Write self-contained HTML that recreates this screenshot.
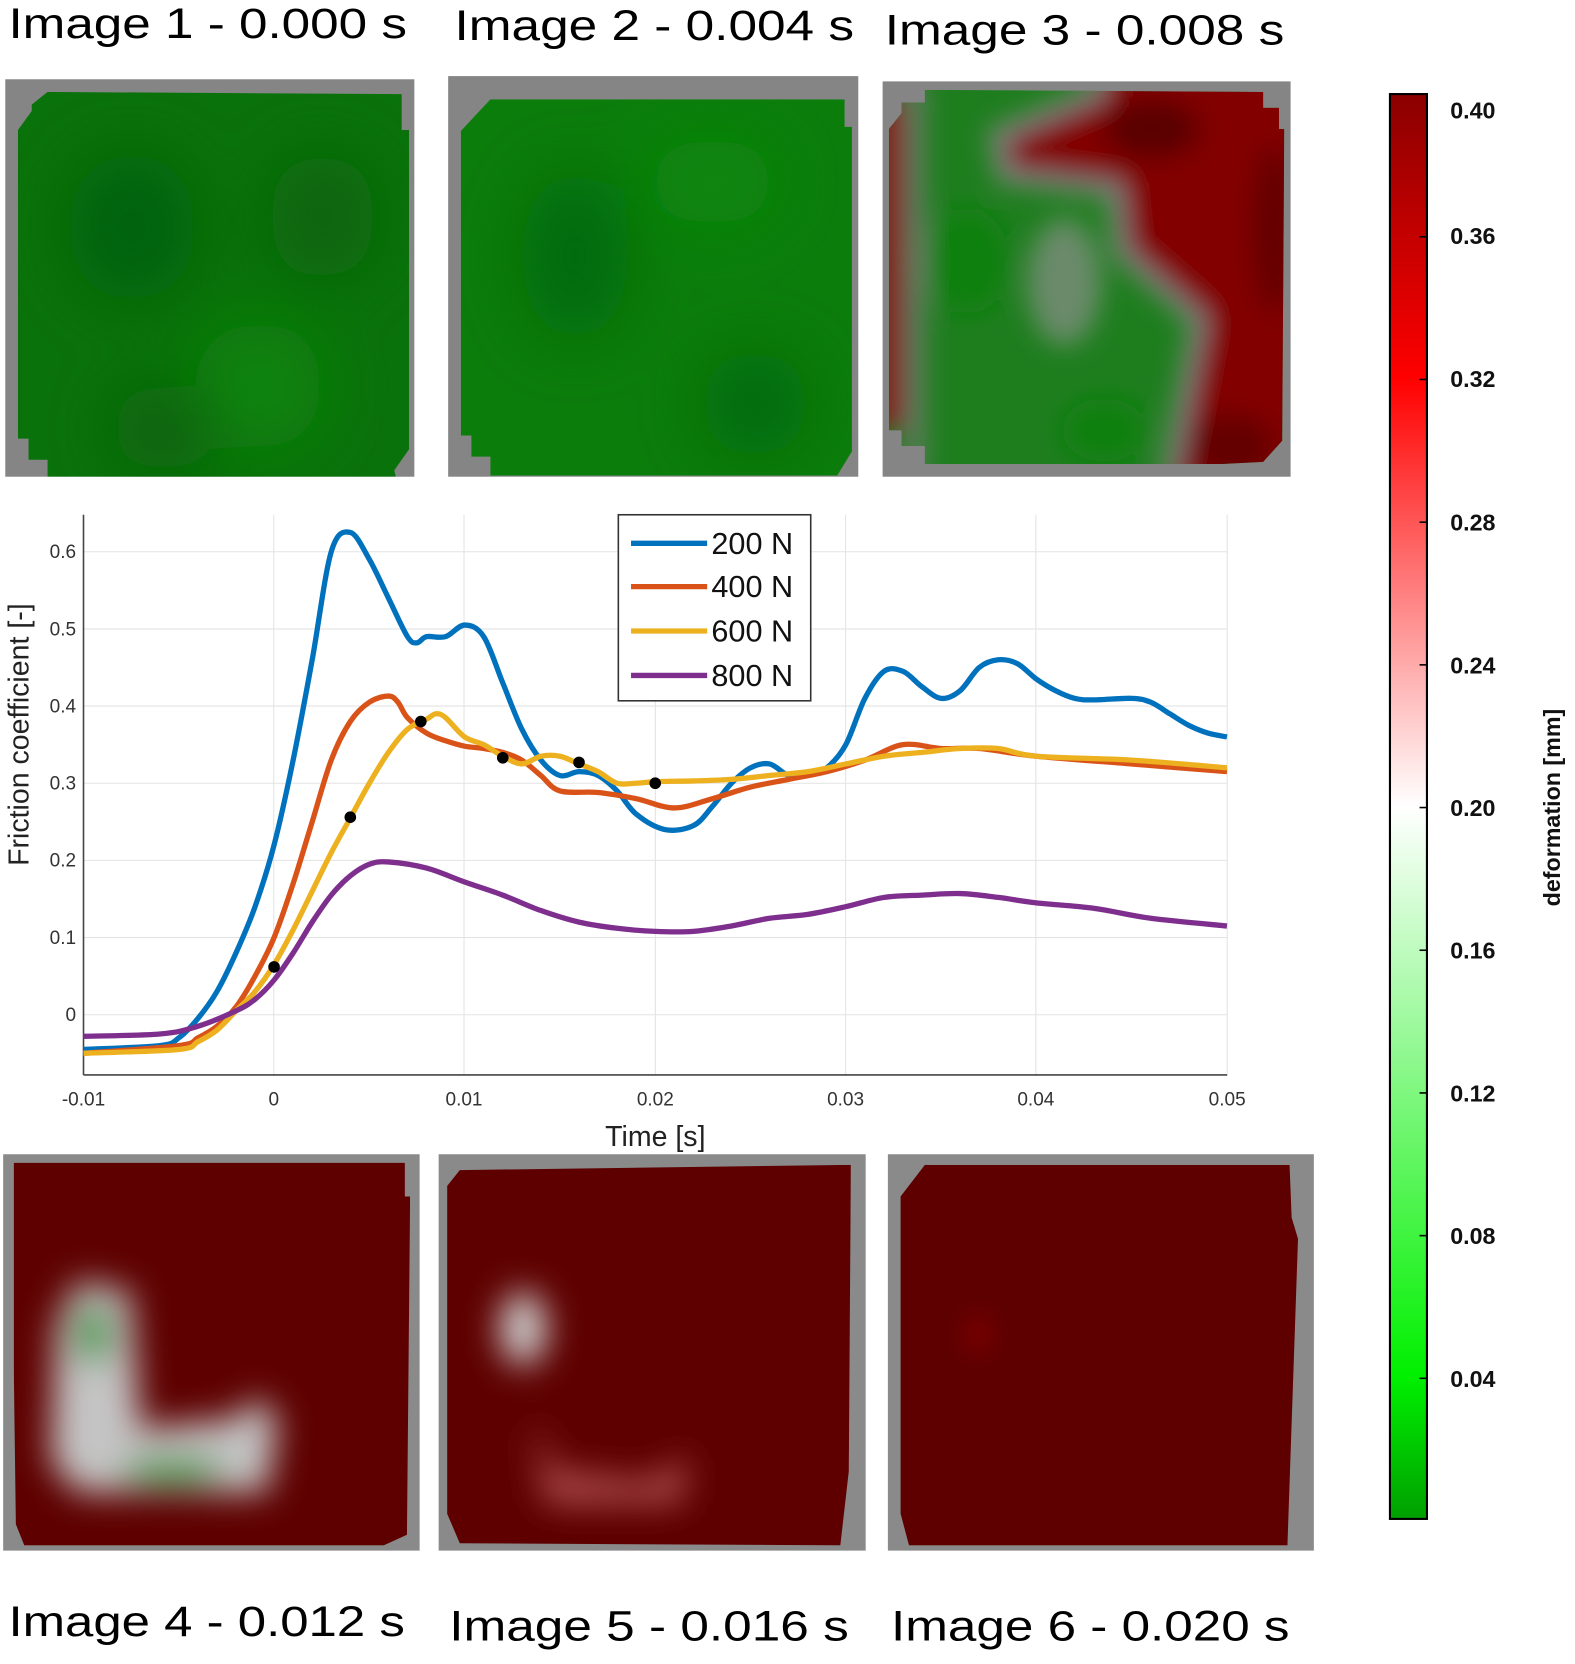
<!DOCTYPE html>
<html><head><meta charset="utf-8"><style>
html,body{margin:0;padding:0;background:#fff;overflow:hidden;width:1575px;height:1658px}
#w{position:absolute;left:0;top:0;width:1490px;height:1569px;transform:scale(1.0570);transform-origin:0 0}
</style></head><body><div id="w">
<svg width="1490" height="1569" xmlns="http://www.w3.org/2000/svg" font-family="Liberation Sans, sans-serif">
<defs>
<filter id="b1" filterUnits="userSpaceOnUse" x="-200" y="-200" width="800" height="800"><feGaussianBlur stdDeviation="30"/></filter>
<filter id="b2" filterUnits="userSpaceOnUse" x="-200" y="-200" width="800" height="800"><feGaussianBlur stdDeviation="16"/></filter>
<filter id="b3" filterUnits="userSpaceOnUse" x="-200" y="-200" width="800" height="800"><feGaussianBlur stdDeviation="12"/></filter>
<linearGradient id="cb" x1="0" y1="0" x2="0" y2="1">
<stop offset="0" stop-color="#8a0000"/><stop offset="0.2" stop-color="#ff0000"/>
<stop offset="0.5" stop-color="#ffffff"/><stop offset="0.9" stop-color="#00f000"/><stop offset="1" stop-color="#00a000"/>
</linearGradient>
</defs>
<!-- titles -->
<g font-size="40" fill="#000" font-family="Liberation Sans Narrow, Liberation Sans, sans-serif">
<text x="8" y="36" textLength="377" lengthAdjust="spacingAndGlyphs">Image 1 - 0.000 s</text>
<text x="430" y="38" textLength="378" lengthAdjust="spacingAndGlyphs">Image 2 - 0.004 s</text>
<text x="837" y="42" textLength="378" lengthAdjust="spacingAndGlyphs">Image 3 - 0.008 s</text>
<text x="8" y="1548" textLength="375" lengthAdjust="spacingAndGlyphs">Image 4 - 0.012 s</text>
<text x="425" y="1552" textLength="378" lengthAdjust="spacingAndGlyphs">Image 5 - 0.016 s</text>
<text x="843" y="1552" textLength="377" lengthAdjust="spacingAndGlyphs">Image 6 - 0.020 s</text>
</g>
<!-- tile 1 -->
<rect x="5" y="75" width="387" height="376" fill="#858585"/>
<svg x="5" y="75" width="387" height="376"><defs><clipPath id="k1"><polygon points="40,12 375,14 375,48 382,48 382,350 368,370 370,378 40,378 40,360 22,360 22,340 12,340 12,48 25,30 25,24"/></clipPath></defs>
<g clip-path="url(#k1)"><rect width="387" height="376" fill="#0a720a"/>
<g filter="url(#b1)"><ellipse cx="120" cy="140" rx="60" ry="70" fill="#066208"/><ellipse cx="240" cy="290" rx="60" ry="60" fill="#0b840b"/><ellipse cx="300" cy="130" rx="50" ry="60" fill="#07650a"/><ellipse cx="150" cy="330" rx="50" ry="40" fill="#076208"/></g></g></svg>
<!-- tile 2 -->
<rect x="424" y="72" width="388" height="379" fill="#858585"/>
<svg x="424" y="72" width="388" height="379"><defs><clipPath id="k2"><polygon points="40,22 375,22 375,48 382,48 382,355 368,378 40,378 40,360 22,360 22,340 12,340 12,52 25,38"/></clipPath></defs>
<g clip-path="url(#k2)"><rect width="388" height="379" fill="#0b7d0b"/>
<g filter="url(#b1)"><ellipse cx="120" cy="170" rx="50" ry="80" fill="#066a08"/><ellipse cx="290" cy="310" rx="50" ry="50" fill="#066a08"/><ellipse cx="250" cy="100" rx="60" ry="40" fill="#0d880d"/></g></g></svg>
<!-- tile 3 -->
<rect x="835" y="77" width="386" height="374" fill="#858585"/>
<svg x="835" y="77" width="386" height="374"><defs><clipPath id="k3"><polygon points="40,8 360,10 360,25 375,25 375,45 380,45 378,340 360,360 320,362 40,362 40,345 18,345 18,330 6,330 6,45 18,30 18,20 40,20"/></clipPath></defs>
<g clip-path="url(#k3)"><rect width="386" height="374" fill="#1e7e1e"/>
<g filter="url(#b3)">
<rect x="-10" y="15" width="30" height="315" fill="#8a0a0a"/>
<rect x="24" y="0" width="14" height="374" fill="#7a7a7a"/>
<polygon points="204,-20 420,-20 420,400 270,400 299,226 226,162 220,102 115,89 108,51 204,10" fill="#820000"/>
<polyline points="204,-10 204,10 108,51 115,89 220,102 226,162 299,226 270,380" fill="none" stroke="#858585" stroke-width="14"/>
<ellipse cx="255" cy="45" rx="45" ry="28" fill="#5a0000"/><ellipse cx="370" cy="140" rx="20" ry="80" fill="#640000"/><ellipse cx="330" cy="345" rx="40" ry="30" fill="#640000"/>
<ellipse cx="172" cy="190" rx="35" ry="60" fill="#6a8a6a"/>
<ellipse cx="80" cy="170" rx="40" ry="50" fill="#0a800a"/><ellipse cx="210" cy="330" rx="40" ry="30" fill="#0a800a"/>
</g></g></svg>
<!-- tile 4 -->
<rect x="3" y="1092" width="394" height="375" fill="#8a8a8a"/>
<svg x="3" y="1092" width="394" height="375"><defs><clipPath id="k4"><polygon points="10,8 380,8 380,40 385,40 382,360 360,370 20,370 12,350 10,200"/></clipPath></defs>
<g clip-path="url(#k4)"><rect width="394" height="375" fill="#5e0000"/>
<g filter="url(#b2)"><path d="M70,120 L120,130 L130,260 L220,250 L240,230 L260,250 L250,320 L70,320 L45,290 L50,160 Z" fill="#c4c4c4"/>
<ellipse cx="85" cy="170" rx="20" ry="30" fill="#4c9a4c"/><ellipse cx="160" cy="300" rx="50" ry="15" fill="#4c9a4c"/></g></g></svg>
<!-- tile 5 -->
<rect x="415" y="1092" width="404" height="375" fill="#8a8a8a"/>
<svg x="415" y="1092" width="404" height="375"><defs><clipPath id="k5"><polygon points="20,15 390,10 388,300 380,370 20,368 8,340 8,30"/></clipPath></defs>
<g clip-path="url(#k5)"><rect width="404" height="375" fill="#5e0000"/>
<g filter="url(#b2)"><ellipse cx="80" cy="165" rx="22" ry="35" fill="#d0d0d0"/><path d="M90,250 L110,300 L200,310 L235,285 L230,330 L100,330 Z" fill="#b05050"/></g></g></svg>
<!-- tile 6 -->
<rect x="840" y="1092" width="403" height="375" fill="#8a8a8a"/>
<svg x="840" y="1092" width="403" height="375"><defs><clipPath id="k6"><polygon points="35,10 380,10 382,60 388,80 378,370 20,370 12,340 12,40"/></clipPath></defs>
<g clip-path="url(#k6)"><rect width="403" height="375" fill="#5e0000"/>
<g filter="url(#b3)"><ellipse cx="85" cy="170" rx="10" ry="18" fill="#850000"/></g></g></svg>
<!-- plot -->
<g stroke="#e3e3e3" stroke-width="1">
<line x1="79" y1="960" x2="1161" y2="960"/><line x1="79" y1="887" x2="1161" y2="887"/><line x1="79" y1="814" x2="1161" y2="814"/><line x1="79" y1="741" x2="1161" y2="741"/><line x1="79" y1="668" x2="1161" y2="668"/><line x1="79" y1="595" x2="1161" y2="595"/><line x1="79" y1="522" x2="1161" y2="522"/>
<line x1="259" y1="487" x2="259" y2="1017"/><line x1="439" y1="487" x2="439" y2="1017"/><line x1="620" y1="487" x2="620" y2="1017"/><line x1="800" y1="487" x2="800" y2="1017"/><line x1="980" y1="487" x2="980" y2="1017"/><line x1="1161" y1="487" x2="1161" y2="1017"/>
</g>
<g stroke="#444" stroke-width="1.5" fill="none"><line x1="79" y1="487" x2="79" y2="1017"/><line x1="79" y1="1017" x2="1161" y2="1017"/></g>
<g font-size="18" fill="#333" text-anchor="end">
<text x="72" y="966">0</text><text x="72" y="893">0.1</text><text x="72" y="820">0.2</text><text x="72" y="747">0.3</text><text x="72" y="674">0.4</text><text x="72" y="601">0.5</text><text x="72" y="528">0.6</text></g>
<g font-size="18" fill="#333" text-anchor="middle">
<text x="79" y="1046">-0.01</text><text x="259" y="1046">0</text><text x="439" y="1046">0.01</text><text x="620" y="1046">0.02</text><text x="800" y="1046">0.03</text><text x="980" y="1046">0.04</text><text x="1161" y="1046">0.05</text></g>
<text x="620" y="1084" font-size="27" fill="#222" text-anchor="middle">Time [s]</text>
<text transform="translate(27,695) rotate(-90)" font-size="27" fill="#222" text-anchor="middle">Friction coefficient [-]</text>
<g id="curves" fill="none" stroke-width="5" stroke-linejoin="round"></g>
<g id="dots" fill="#000"></g>
<!-- legend -->
<rect x="585" y="487" width="182" height="176" fill="#fff" stroke="#333" stroke-width="1.5"/>
<g stroke-width="5"><line x1="597" x2="669" y1="514" y2="514" stroke="#0072bd"/><line x1="597" x2="669" y1="555" y2="555" stroke="#d95319"/><line x1="597" x2="669" y1="597" y2="597" stroke="#edb120"/><line x1="597" x2="669" y1="639" y2="639" stroke="#7e2f8e"/></g>
<g font-size="29" fill="#111"><text x="673" y="524">200 N</text><text x="673" y="565">400 N</text><text x="673" y="607">600 N</text><text x="673" y="649">800 N</text></g>
<!-- colorbar -->
<rect x="1315" y="89" width="35" height="1348" fill="url(#cb)" stroke="#000" stroke-width="2"/>
<g stroke="#000" stroke-width="1.5"><line x1="1343" x2="1350" y1="89" y2="89"/><line x1="1343" x2="1350" y1="224" y2="224"/><line x1="1343" x2="1350" y1="359" y2="359"/><line x1="1343" x2="1350" y1="494" y2="494"/><line x1="1343" x2="1350" y1="629" y2="629"/><line x1="1343" x2="1350" y1="764" y2="764"/><line x1="1343" x2="1350" y1="899" y2="899"/><line x1="1343" x2="1350" y1="1034" y2="1034"/><line x1="1343" x2="1350" y1="1169" y2="1169"/><line x1="1343" x2="1350" y1="1304" y2="1304"/></g>
<g font-size="22" font-weight="bold" fill="#111">
<text x="1372" y="112">0.40</text><text x="1372" y="231">0.36</text><text x="1372" y="366">0.32</text><text x="1372" y="502">0.28</text><text x="1372" y="637">0.24</text><text x="1372" y="772">0.20</text><text x="1372" y="907">0.16</text><text x="1372" y="1042">0.12</text><text x="1372" y="1177">0.08</text><text x="1372" y="1312">0.04</text></g>
<text transform="translate(1476,764) rotate(-90)" font-size="22" font-weight="bold" fill="#111" text-anchor="middle">deformation [mm]</text>
</svg></div>
<script>
var X=function(t){return 79+(t+0.01)*18030},Y=function(v){return 960-v*730};
var S={
"#0072bd":[[-0.01,-0.045],[-0.006,-0.04],[-0.005,-0.03],[-0.004,-0.005],[-0.003,0.03],[-0.002,0.08],[-0.001,0.14],[0,0.22],[0.001,0.33],[0.002,0.46],[0.003,0.6],[0.004,0.625],[0.005,0.59],[0.006,0.54],[0.007,0.49],[0.0075,0.482],[0.008,0.49],[0.009,0.49],[0.01,0.505],[0.011,0.49],[0.012,0.43],[0.013,0.37],[0.014,0.33],[0.015,0.31],[0.016,0.315],[0.017,0.31],[0.018,0.29],[0.019,0.26],[0.0205,0.24],[0.022,0.245],[0.023,0.27],[0.024,0.3],[0.025,0.32],[0.026,0.325],[0.027,0.31],[0.028,0.31],[0.029,0.32],[0.03,0.35],[0.031,0.41],[0.032,0.445],[0.033,0.445],[0.034,0.425],[0.035,0.41],[0.036,0.42],[0.037,0.45],[0.038,0.46],[0.039,0.455],[0.04,0.435],[0.041,0.42],[0.042,0.41],[0.043,0.408],[0.045,0.41],[0.046,0.405],[0.047,0.39],[0.048,0.375],[0.049,0.365],[0.05,0.36]],
"#d95319":[[-0.01,-0.05],[-0.005,-0.04],[-0.004,-0.03],[-0.003,-0.015],[-0.002,0.01],[-0.001,0.05],[0,0.1],[0.001,0.17],[0.002,0.25],[0.003,0.33],[0.004,0.38],[0.005,0.405],[0.006,0.413],[0.0065,0.405],[0.007,0.385],[0.008,0.365],[0.009,0.355],[0.01,0.348],[0.011,0.345],[0.012,0.34],[0.013,0.33],[0.014,0.31],[0.015,0.29],[0.017,0.288],[0.019,0.28],[0.021,0.268],[0.023,0.28],[0.025,0.295],[0.027,0.305],[0.029,0.315],[0.031,0.33],[0.033,0.35],[0.035,0.345],[0.037,0.345],[0.04,0.335],[0.045,0.325],[0.05,0.315]],
"#edb120":[[-0.01,-0.05],[-0.005,-0.045],[-0.004,-0.035],[-0.003,-0.02],[-0.002,0.005],[-0.001,0.03],[0,0.065],[0.001,0.11],[0.002,0.16],[0.003,0.21],[0.004,0.255],[0.005,0.3],[0.006,0.34],[0.007,0.37],[0.008,0.383],[0.0085,0.39],[0.009,0.385],[0.01,0.36],[0.011,0.35],[0.012,0.335],[0.013,0.325],[0.014,0.335],[0.015,0.335],[0.016,0.325],[0.017,0.315],[0.018,0.3],[0.019,0.3],[0.02,0.302],[0.022,0.303],[0.024,0.305],[0.026,0.31],[0.028,0.315],[0.03,0.325],[0.032,0.335],[0.034,0.34],[0.036,0.345],[0.038,0.345],[0.04,0.335],[0.045,0.33],[0.05,0.32]],
"#7e2f8e":[[-0.01,-0.028],[-0.006,-0.025],[-0.004,-0.015],[-0.002,0.005],[-0.001,0.02],[0,0.045],[0.001,0.08],[0.002,0.12],[0.003,0.155],[0.004,0.18],[0.005,0.195],[0.006,0.198],[0.008,0.19],[0.01,0.172],[0.012,0.155],[0.014,0.135],[0.016,0.12],[0.018,0.112],[0.02,0.108],[0.022,0.108],[0.024,0.115],[0.026,0.125],[0.028,0.13],[0.03,0.14],[0.032,0.152],[0.034,0.155],[0.036,0.157],[0.038,0.152],[0.04,0.145],[0.043,0.138],[0.046,0.125],[0.05,0.115]]};
var ns="http://www.w3.org/2000/svg",g=document.getElementById("curves");
for(var c in S){var p=S[c].map(function(q){return [X(q[0]),Y(q[1])]});var d="M"+p[0][0]+","+p[0][1];
for(var i=0;i<p.length-1;i++){var p0=p[i-1]||p[i],p1=p[i],p2=p[i+1],p3=p[i+2]||p2;
d+=" C"+(p1[0]+(p2[0]-p0[0])/6)+","+(p1[1]+(p2[1]-p0[1])/6)+" "+(p2[0]-(p3[0]-p1[0])/6)+","+(p2[1]-(p3[1]-p1[1])/6)+" "+p2[0]+","+p2[1];}
var e=document.createElementNS(ns,"path");e.setAttribute("d",d);e.setAttribute("stroke",c);g.appendChild(e);}
var D=[[0,0.062],[0.004,0.256],[0.0077,0.38],[0.012,0.333],[0.016,0.327],[0.02,0.3]],dg=document.getElementById("dots");
D.forEach(function(q){var e=document.createElementNS(ns,"circle");e.setAttribute("cx",X(q[0]));e.setAttribute("cy",Y(q[1]));e.setAttribute("r",5.5);dg.appendChild(e);});
</script>
</body></html>
